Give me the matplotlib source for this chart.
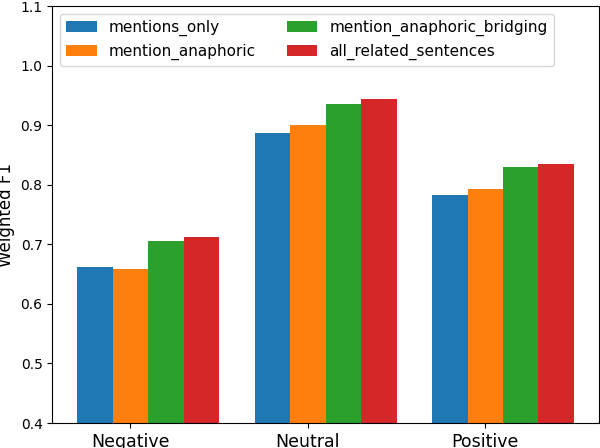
import numpy as np
import matplotlib
matplotlib.use("Agg")
import matplotlib.pyplot as plt

categories = ["Negative", "Neutral", "Positive"]
series_names = ["mentions_only", "mention_anaphoric",
                "mention_anaphoric_bridging", "all_related_sentences"]
mentions_only = [0.662, 0.886, 0.783]
mention_anaphoric = [0.658, 0.901, 0.792]
mention_anaphoric_bridging = [0.706, 0.935, 0.829]
all_related_sentences = [0.713, 0.944, 0.834]

series = [mentions_only, mention_anaphoric, mention_anaphoric_bridging, all_related_sentences]
colors = ["#1f77b4", "#ff7f0e", "#2ca02c", "#d62728"]

fig = plt.figure(figsize=(6, 4.48), dpi=100)
ax = fig.add_axes([0.0872, 0.0558, 0.9108, 0.9308])

x = np.arange(len(categories))
width = 0.2
# bars sit at x-0.2, x, x+0.2, x+0.4 like the original
for i, (name, vals) in enumerate(zip(series_names, series)):
    ax.bar(x + (i - 1) * width, vals, width, label=name, color=colors[i])

ax.set_xticks(x)
ax.set_xticklabels(categories, fontsize=12.5)
ax.set_ylim(0.4, 1.1)
ax.set_ylabel("Weighted F1", fontsize=12)
ax.yaxis.set_label_coords(-0.068, 0.5)
ax.tick_params(axis="y", labelsize=10)
ax.legend(loc="upper left", ncol=2, fontsize=11)

fig.savefig("out.png", dpi=100)
